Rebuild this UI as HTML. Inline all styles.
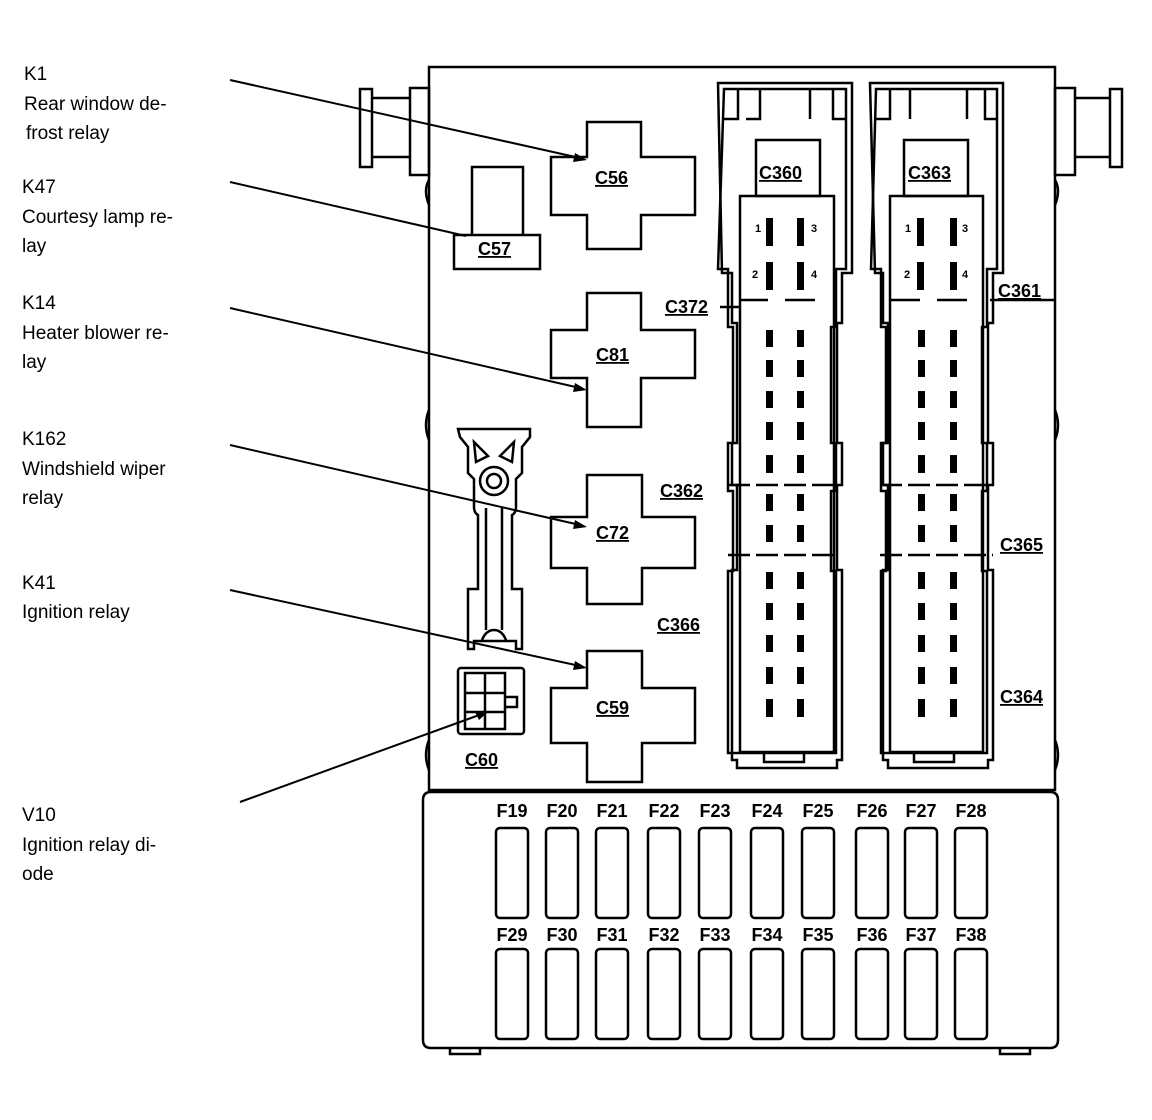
<!DOCTYPE html>
<html><head><meta charset="utf-8"><style>
html,body{margin:0;padding:0;background:#fff;}
svg{display:block}
.l{font-family:"Liberation Sans",sans-serif;font-size:19px;fill:#000}
.b{font-family:"Liberation Sans",sans-serif;font-size:18px;font-weight:bold;fill:#000;text-decoration:underline}
.f{font-family:"Liberation Sans",sans-serif;font-size:18px;font-weight:bold;fill:#000}
.p{font-family:"Liberation Sans",sans-serif;font-size:11px;font-weight:bold;fill:#000}
</style></head><body>
<svg width="1152" height="1120" viewBox="0 0 1152 1120" xmlns="http://www.w3.org/2000/svg">
<g fill="none" stroke="#000" stroke-width="2.5">
<rect x="429" y="67" width="626" height="723"/>
<rect x="360" y="89" width="12" height="78"/>
<line x1="372" y1="98" x2="410" y2="98"/><line x1="372" y1="157" x2="410" y2="157"/>
<rect x="410" y="88" width="19" height="87"/>
<rect x="1055" y="88" width="20" height="87"/>
<line x1="1075" y1="98" x2="1110" y2="98"/><line x1="1075" y1="157" x2="1110" y2="157"/>
<rect x="1110" y="89" width="12" height="78"/>
<path d="M429 180 q-6 10 0 25"/><path d="M429 410 q-6 15 0 30"/><path d="M429 740 q-6 15 0 30"/>
<path d="M1055 180 q6 10 0 25"/><path d="M1055 410 q6 15 0 30"/><path d="M1055 740 q6 15 0 30"/>
<path d="M423 800 q0 -8 8 -8 h619 q8 0 8 8 v240 q0 8 -8 8 h-619 q-8 0 -8 -8 z"/>
<path d="M450 1048 v6 h30 v-6 M1000 1048 v6 h30 v-6"/>
<path d="M587 122 h54 v35 h54 v58 h-54 v34 h-54 v-34 h-36 v-58 h36 z"/>
<path d="M587 293 h54 v37 h54 v48 h-54 v49 h-54 v-49 h-36 v-48 h36 z"/>
<path d="M587 475 h55 v42 h53 v51 h-53 v36 h-55 v-36 h-36 v-51 h36 z"/>
<path d="M587 651 h55 v37 h53 v55 h-53 v39 h-55 v-39 h-36 v-55 h36 z"/>
<path d="M472 235 v-68 h51 v68"/>
<rect x="454" y="235" width="86" height="34"/>
<path d="M458 429 h72 v8 l-8 10 v26 l-6 6 v28 q0 6 -4 8 v74 h10 v60 h-6 v-8 h-42 v8 h-6 v-60 h10 v-74 q-4 -2 -4 -8 v-28 l-6 -6 v-26 l-8 -10 z"/>
<circle cx="494" cy="481" r="14"/><circle cx="494" cy="481" r="7"/>
<path d="M474 442 l14 14 l-12 6 z M514 442 l-14 14 l12 6 z"/>
<line x1="486" y1="508" x2="486" y2="630"/><line x1="502" y1="508" x2="502" y2="630"/>
<path d="M482 640 q4 -10 12 -10 q8 0 12 10"/>
<rect x="458" y="668" width="66" height="66" rx="3"/>
<rect x="465" y="673" width="40" height="56"/>
<line x1="485" y1="673" x2="485" y2="729"/><line x1="465" y1="693" x2="505" y2="693"/><line x1="465" y1="712" x2="505" y2="712"/>
<path d="M505 697 h12 v10 h-12"/>
<path d="M718 83 h134 v190 h-10 v50 h-5 v120 h5 v42 h-5 v85 h5 v190 h-5 v8 h-100 v-8 h-5 v-190 h5 v-85 h-5 v-42 h5 v-120 h-5 v-50 h-10 z"/>
<path d="M724 89 h122 v180 h-10 v58 h-5 v116 h5 v48 h-5 v80 h5 v182 h-108 v-182 h5 v-80 h-5 v-48 h5 v-116 h-5 v-58 h-10 z"/>
<path d="M870 83 h133 v190 h-10 v50 h-5 v120 h5 v42 h-5 v85 h5 v190 h-5 v8 h-100 v-8 h-5 v-190 h5 v-85 h-5 v-42 h5 v-120 h-5 v-50 h-8 z"/>
<path d="M876 89 h121 v180 h-10 v58 h-5 v116 h5 v48 h-5 v80 h5 v182 h-106 v-182 h5 v-80 h-5 v-48 h5 v-116 h-5 v-58 h-10 z"/>
<path d="M738 89 v30 h-14 M760 89 v30 h-14 M833 89 v30 h13 M810 89 v30" />
<path d="M890 89 v30 h-14 M910 89 v30 M985 89 v30 h12 M967 89 v30"/>
<rect x="740" y="196" width="94" height="556"/>
<rect x="890" y="196" width="93" height="556"/>
<rect x="756" y="140" width="64" height="56"/>
<rect x="904" y="140" width="64" height="56"/>
<path d="M764 752 v10 h40 v-10 M914 752 v10 h40 v-10"/>
<path d="M740 300 h28 M785 300 h30 M890 300 h30 M937 300 h30" />
<path d="M728 485 h106 M880 485 h113" stroke-dasharray="22 6"/>
<path d="M728 555 h106 M880 555 h113" stroke-dasharray="22 6"/>
<line x1="990" y1="300" x2="1055" y2="300"/>
<line x1="720" y1="307" x2="740" y2="307"/>
</g>
<g fill="none" stroke="#000" stroke-width="2">
<line x1="230" y1="80" x2="580" y2="158"/>
<line x1="230" y1="182" x2="466" y2="236"/>
<line x1="230" y1="308" x2="580" y2="388"/>
<line x1="230" y1="445" x2="580" y2="525"/>
<line x1="230" y1="590" x2="580" y2="666"/>
<line x1="240" y1="802" x2="482" y2="714"/>
</g>
<g fill="#000">
<path d="M587 160 l-12 -7 l-2 9 z"/>
<path d="M587 390 l-12 -7 l-2 9 z"/>
<path d="M587 527 l-12 -7 l-2 9 z"/>
<path d="M587 668 l-12 -7 l-2 9 z"/>
<path d="M488 712 l-13 0 l4 8 z"/>
</g>
<g fill="#000">
<rect x="766" y="218" width="7" height="28"/><rect x="797" y="218" width="7" height="28"/>
<rect x="766" y="262" width="7" height="28"/><rect x="797" y="262" width="7" height="28"/>
<rect x="917" y="218" width="7" height="28"/><rect x="950" y="218" width="7" height="28"/>
<rect x="917" y="262" width="7" height="28"/><rect x="950" y="262" width="7" height="28"/>
<rect x="766" y="330" width="7" height="17"/><rect x="797" y="330" width="7" height="17"/>
<rect x="766" y="360" width="7" height="17"/><rect x="797" y="360" width="7" height="17"/>
<rect x="766" y="391" width="7" height="17"/><rect x="797" y="391" width="7" height="17"/>
<rect x="766" y="422" width="7" height="18"/><rect x="797" y="422" width="7" height="18"/>
<rect x="766" y="455" width="7" height="18"/><rect x="797" y="455" width="7" height="18"/>
<rect x="766" y="494" width="7" height="17"/><rect x="797" y="494" width="7" height="17"/>
<rect x="766" y="525" width="7" height="17"/><rect x="797" y="525" width="7" height="17"/>
<rect x="766" y="572" width="7" height="17"/><rect x="797" y="572" width="7" height="17"/>
<rect x="766" y="603" width="7" height="17"/><rect x="797" y="603" width="7" height="17"/>
<rect x="766" y="635" width="7" height="17"/><rect x="797" y="635" width="7" height="17"/>
<rect x="766" y="667" width="7" height="17"/><rect x="797" y="667" width="7" height="17"/>
<rect x="766" y="699" width="7" height="18"/><rect x="797" y="699" width="7" height="18"/>
<rect x="918" y="330" width="7" height="17"/><rect x="950" y="330" width="7" height="17"/>
<rect x="918" y="360" width="7" height="17"/><rect x="950" y="360" width="7" height="17"/>
<rect x="918" y="391" width="7" height="17"/><rect x="950" y="391" width="7" height="17"/>
<rect x="918" y="422" width="7" height="18"/><rect x="950" y="422" width="7" height="18"/>
<rect x="918" y="455" width="7" height="18"/><rect x="950" y="455" width="7" height="18"/>
<rect x="918" y="494" width="7" height="17"/><rect x="950" y="494" width="7" height="17"/>
<rect x="918" y="525" width="7" height="17"/><rect x="950" y="525" width="7" height="17"/>
<rect x="918" y="572" width="7" height="17"/><rect x="950" y="572" width="7" height="17"/>
<rect x="918" y="603" width="7" height="17"/><rect x="950" y="603" width="7" height="17"/>
<rect x="918" y="635" width="7" height="17"/><rect x="950" y="635" width="7" height="17"/>
<rect x="918" y="667" width="7" height="17"/><rect x="950" y="667" width="7" height="17"/>
<rect x="918" y="699" width="7" height="18"/><rect x="950" y="699" width="7" height="18"/>
</g>
<g class="p">
<text x="755" y="232" class="p">1</text><text x="811" y="232" class="p">3</text>
<text x="752" y="278" class="p">2</text><text x="811" y="278" class="p">4</text>
<text x="905" y="232" class="p">1</text><text x="962" y="232" class="p">3</text>
<text x="904" y="278" class="p">2</text><text x="962" y="278" class="p">4</text>
</g>
<g fill="none" stroke="#000" stroke-width="2.5">
<rect x="496" y="828" width="32" height="90" rx="4"/><rect x="546" y="828" width="32" height="90" rx="4"/>
<rect x="596" y="828" width="32" height="90" rx="4"/><rect x="648" y="828" width="32" height="90" rx="4"/>
<rect x="699" y="828" width="32" height="90" rx="4"/><rect x="751" y="828" width="32" height="90" rx="4"/>
<rect x="802" y="828" width="32" height="90" rx="4"/><rect x="856" y="828" width="32" height="90" rx="4"/>
<rect x="905" y="828" width="32" height="90" rx="4"/><rect x="955" y="828" width="32" height="90" rx="4"/>
<rect x="496" y="949" width="32" height="90" rx="4"/><rect x="546" y="949" width="32" height="90" rx="4"/>
<rect x="596" y="949" width="32" height="90" rx="4"/><rect x="648" y="949" width="32" height="90" rx="4"/>
<rect x="699" y="949" width="32" height="90" rx="4"/><rect x="751" y="949" width="32" height="90" rx="4"/>
<rect x="802" y="949" width="32" height="90" rx="4"/><rect x="856" y="949" width="32" height="90" rx="4"/>
<rect x="905" y="949" width="32" height="90" rx="4"/><rect x="955" y="949" width="32" height="90" rx="4"/>
</g>
<g class="f" text-anchor="middle">
<text x="512" y="817">F19</text><text x="562" y="817">F20</text><text x="612" y="817">F21</text><text x="664" y="817">F22</text><text x="715" y="817">F23</text><text x="767" y="817">F24</text><text x="818" y="817">F25</text><text x="872" y="817">F26</text><text x="921" y="817">F27</text><text x="971" y="817">F28</text>
<text x="512" y="941">F29</text><text x="562" y="941">F30</text><text x="612" y="941">F31</text><text x="664" y="941">F32</text><text x="715" y="941">F33</text><text x="767" y="941">F34</text><text x="818" y="941">F35</text><text x="872" y="941">F36</text><text x="921" y="941">F37</text><text x="971" y="941">F38</text>
</g>
<g class="b">
<text x="595" y="184">C56</text>
<text x="478" y="255">C57</text>
<text x="596" y="361">C81</text>
<text x="596" y="539">C72</text>
<text x="596" y="714">C59</text>
<text x="465" y="766">C60</text>
<text x="759" y="179">C360</text>
<text x="908" y="179">C363</text>
<text x="665" y="313">C372</text>
<text x="660" y="497">C362</text>
<text x="657" y="631">C366</text>
<text x="998" y="297">C361</text>
<text x="1000" y="551">C365</text>
<text x="1000" y="703">C364</text>
</g>
<g class="l">
<text x="24" y="80">K1</text>
<text x="24" y="110">Rear window de-</text>
<text x="26" y="139">frost relay</text>
<text x="22" y="193">K47</text>
<text x="22" y="223">Courtesy lamp re-</text>
<text x="22" y="252">lay</text>
<text x="22" y="309">K14</text>
<text x="22" y="339">Heater blower re-</text>
<text x="22" y="368">lay</text>
<text x="22" y="445">K162</text>
<text x="22" y="475">Windshield wiper</text>
<text x="22" y="504">relay</text>
<text x="22" y="589">K41</text>
<text x="22" y="618">Ignition relay</text>
<text x="22" y="821">V10</text>
<text x="22" y="851">Ignition relay di-</text>
<text x="22" y="880">ode</text>
</g>
</svg>
</body></html>
